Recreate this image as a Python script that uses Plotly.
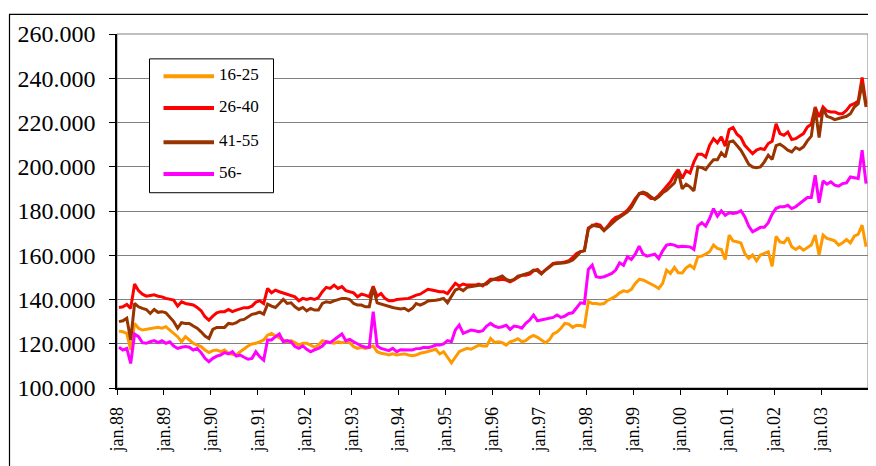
import numpy as np
import plotly.graph_objects as go

# ---- data (thousands), monthly jan.88 .. dec.03 ----
series_names = ["16-25", "26-40", "41-55", "56-"]
series_colors = ["#FF9900", "#FF0000", "#993300", "#FF00FF"]

age_16_25 = [
    125.7, 125.4, 124.7, 117.2, 129.2, 127.0, 126.2, 126.5, 127.0, 127.0, 127.4, 127.0,
    127.7, 126.2, 124.7, 123.2, 120.9, 123.2, 121.7, 120.2, 119.4, 118.7, 117.2, 116.0,
    116.9, 117.2, 116.4, 117.2, 115.7, 115.4, 114.9, 116.4, 117.9, 119.0, 119.9, 120.2,
    120.9, 121.7, 123.9, 124.7, 123.5, 122.4, 121.7, 120.9, 121.4, 120.5, 119.4, 120.2,
    120.2, 119.4, 118.4, 119.4, 121.4, 120.9, 120.5, 120.2, 120.9, 120.5, 120.9, 120.5,
    118.7, 117.9, 118.4, 117.9, 118.4, 119.0, 116.4, 115.7, 115.4, 114.9, 115.4, 114.9,
    115.2, 115.4, 114.9, 114.6, 114.9, 115.7, 116.0, 116.4, 116.9, 117.5, 115.4, 116.4,
    113.9, 111.4, 113.9, 116.4, 117.2, 117.9, 117.5, 118.4, 119.4, 119.0, 119.0, 122.4,
    120.6, 120.9, 120.5, 119.4, 120.9, 121.4, 122.3, 120.9, 121.4, 122.9, 123.8, 122.9,
    121.7, 120.5, 121.7, 124.4, 125.3, 127.0, 129.2, 128.9, 127.4, 128.4, 128.3, 127.7,
    139.0, 138.2, 138.2, 137.9, 138.2, 139.7, 140.5, 141.5, 143.0, 143.9, 143.5, 144.6,
    147.3, 149.1, 148.8, 148.0, 147.0, 146.1, 145.0, 147.3, 153.3, 151.8, 154.5, 152.1,
    152.0, 154.3, 155.5, 154.0, 159.3, 159.6, 160.5, 161.6, 164.6, 163.1, 162.6, 158.1,
    169.1, 166.5, 166.1, 165.6, 160.8, 158.6, 160.1, 157.5, 160.1, 160.8, 161.6, 155.0,
    168.5, 166.0, 165.6, 168.0, 163.8, 162.6, 163.8, 162.3, 163.5, 164.6, 169.1, 160.1,
    169.1, 167.6, 167.1, 166.5, 164.6, 165.6, 167.1, 165.6, 168.6, 169.5, 173.6, 163.8,
]

age_26_40 = [
    136.4, 136.7, 137.8, 136.0, 147.0, 144.0, 142.4, 141.5, 141.8, 142.1, 141.5, 141.2,
    140.5, 140.0, 139.7, 137.0, 139.0, 138.2, 137.9, 137.5, 136.4, 134.9, 132.2, 130.7,
    132.5, 134.0, 134.5, 134.5, 135.5, 134.5, 135.2, 135.8, 136.3, 136.3, 137.0, 138.8,
    139.4, 138.2, 145.0, 143.0, 144.2, 143.5, 143.0, 142.4, 142.0, 141.2, 139.4, 140.5,
    140.0, 140.5, 140.0, 140.9, 143.5, 145.5, 145.0, 146.5, 145.0, 145.8, 144.0, 143.5,
    143.0, 141.2, 142.4, 142.0, 141.2, 146.0, 141.5, 142.7, 140.5, 139.4, 139.4, 140.0,
    140.2, 140.5, 140.5, 141.2, 142.0, 142.4, 143.5, 144.6, 144.3, 143.8, 143.5, 143.5,
    142.7, 145.0, 147.3, 146.1, 147.0, 146.5, 146.5, 146.5, 147.0, 146.1, 147.6, 149.1,
    149.1, 148.8, 149.1, 148.8, 148.0, 148.8, 150.0, 151.0, 151.0, 151.5, 153.0, 153.6,
    151.8, 153.3, 154.8, 156.3, 156.6, 156.6, 157.0, 157.5, 159.0, 160.8, 161.6, 162.3,
    172.3, 173.2, 174.1, 173.6, 171.3, 173.2, 175.6, 177.1, 177.7, 178.9, 180.4, 182.6,
    185.6, 187.6, 188.2, 187.1, 185.6, 185.6, 187.1, 189.1, 191.2, 193.2, 196.2, 198.7,
    194.8, 198.2, 197.2, 202.2, 205.7, 205.7, 204.4, 209.7, 212.7, 210.8, 213.5, 209.3,
    216.8, 217.7, 214.7, 213.2, 209.7, 207.8, 205.9, 207.5, 208.2, 207.8, 210.5, 211.5,
    219.4, 215.0, 214.2, 215.7, 212.3, 212.7, 213.8, 215.0, 218.0, 219.2, 227.0, 222.5,
    227.0, 225.2, 224.8, 224.8, 224.0, 224.0, 225.5, 227.8, 228.5, 229.7, 240.3, 228.5,
]

age_41_55 = [
    130.0, 130.4, 131.5, 121.7, 138.2, 136.7, 136.0, 135.5, 133.7, 135.5, 134.2, 134.5,
    134.0, 132.2, 130.0, 127.0, 129.5, 129.2, 129.2, 128.0, 127.0, 125.4, 123.5, 122.4,
    126.5, 127.4, 127.4, 127.4, 129.2, 128.9, 129.5, 130.7, 131.0, 132.2, 133.3, 133.7,
    134.3, 133.4, 137.9, 137.0, 136.4, 138.2, 140.0, 138.2, 138.5, 136.7, 135.5, 136.4,
    134.9, 136.0, 135.2, 135.2, 138.2, 139.0, 138.7, 139.4, 140.0, 140.5, 140.5, 140.0,
    138.2, 137.5, 137.5, 136.7, 136.7, 145.5, 138.5, 137.9, 137.5, 136.7, 136.4, 136.0,
    135.7, 136.0, 134.9, 136.0, 138.2, 137.5, 138.2, 139.3, 139.4, 139.7, 140.0, 140.5,
    138.5, 141.2, 144.3, 145.0, 144.0, 145.5, 145.8, 145.8, 146.1, 146.5, 147.0, 148.5,
    149.1, 150.0, 150.6, 149.1, 148.5, 149.1, 150.6, 151.0, 151.5, 152.1, 153.3, 153.0,
    151.5, 153.3, 154.5, 156.0, 156.3, 156.3, 156.6, 157.0, 157.8, 159.6, 161.6, 162.0,
    171.8, 173.6, 173.2, 172.9, 171.1, 172.5, 174.3, 175.9, 177.1, 178.1, 179.6, 181.6,
    184.9, 187.9, 188.5, 187.9, 186.4, 185.2, 186.4, 188.2, 189.4, 190.9, 192.7, 197.7,
    190.0, 192.1, 190.9, 189.1, 199.9, 199.6, 198.7, 201.1, 203.2, 203.2, 206.3, 204.4,
    211.2, 211.7, 209.7, 207.5, 204.4, 201.1, 199.9, 199.6, 199.9, 202.2, 205.2, 203.3,
    209.5, 210.2, 209.0, 207.5, 206.7, 208.7, 207.8, 209.0, 211.7, 213.8, 226.3, 213.2,
    226.3, 222.8, 222.2, 221.3, 221.8, 222.2, 222.8, 224.0, 227.0, 228.5, 237.6, 227.0,
]

age_56 = [
    118.4, 117.2, 117.9, 111.1, 124.4, 123.2, 120.5, 120.2, 120.9, 121.4, 120.5, 121.4,
    120.2, 120.9, 119.0, 117.9, 118.4, 118.7, 118.4, 117.2, 117.9, 116.0, 113.4, 111.9,
    113.4, 114.4, 114.9, 116.0, 115.4, 116.4, 114.4, 114.9, 113.9, 113.0, 113.4, 116.4,
    114.1, 112.6, 121.7, 121.7, 123.2, 124.4, 120.9, 121.4, 120.9, 118.7, 117.9, 119.0,
    117.5, 116.4, 117.2, 117.9, 119.0, 120.9, 120.5, 121.7, 123.2, 124.4, 121.4, 122.0,
    120.9, 119.9, 119.0, 118.4, 118.4, 134.5, 119.0, 117.9, 117.5, 116.9, 117.9, 116.4,
    117.3, 117.2, 117.2, 117.2, 117.8, 117.9, 118.4, 118.2, 118.7, 119.4, 119.4, 119.9,
    121.4, 120.9, 126.2, 128.4, 124.7, 125.4, 126.2, 125.9, 125.4, 125.9, 128.0, 129.2,
    128.0, 127.4, 127.7, 128.4, 126.5, 128.0, 127.7, 127.0, 129.2, 130.7, 133.0, 130.4,
    130.7, 131.0, 131.3, 131.9, 133.0, 131.9, 132.5, 133.7, 134.0, 136.0, 138.5, 138.2,
    153.6, 155.5, 150.3, 150.0, 150.3, 151.0, 151.8, 153.3, 156.6, 155.5, 159.3, 158.1,
    160.5, 164.1, 160.5, 159.6, 159.9, 160.5, 158.5, 162.0, 164.6, 165.0, 164.6, 163.8,
    164.1, 164.1, 163.8, 162.6, 173.2, 174.7, 173.2, 176.6, 181.1, 177.7, 180.1, 178.1,
    179.2, 178.9, 179.2, 180.1, 177.4, 173.2, 170.6, 171.6, 172.6, 172.6, 174.7, 178.6,
    181.2, 181.9, 181.9, 182.6, 181.1, 181.9, 183.4, 184.6, 186.1, 186.1, 196.2, 183.7,
    193.6, 192.1, 193.2, 191.7, 191.2, 192.4, 192.7, 195.4, 195.1, 194.7, 207.5, 192.4,
]

year_labels = ["jan.88", "jan.89", "jan.90", "jan.91", "jan.92", "jan.93", "jan.94", "jan.95",
               "jan.96", "jan.97", "jan.98", "jan.99", "jan.00", "jan.01", "jan.02", "jan.03"]
y_ticks = [100000, 120000, 140000, 160000, 180000, 200000, 220000, 240000, 260000]

all_series = [age_16_25, age_26_40, age_41_55, age_56]

# ---- figure ----
# the page body has an 8px margin, so the figure is drawn 8px smaller and
# every screen position below is given in window pixels minus that offset
OFF = 8
W, H = 876 - OFF, 466 - OFF
PL, PR, PT, PB = 117, 868, 33.6, 388      # plot area in window pixels
ML, MR, MT, MB = PL - OFF, (876 - PR), PT - OFF, (466 - PB)
PW, PH = W - ML - MR, H - MT - MB

def px(x):
    return (x - OFF - ML) / PW

def py(y):
    return (H - MB - (y - OFF)) / PH

months = np.arange(len(age_16_25))
fig = go.Figure()
for name, col, vals in zip(series_names, series_colors, all_series):
    fig.add_trace(go.Scatter(x=months, y=np.array(vals) * 1000, mode="lines", name=name,
                             line=dict(color=col, width=3), showlegend=False))

tickvals = [-0.5 + 12 * i for i in range(len(year_labels))] + [len(months) - 0.5]
ticktext = year_labels + [""]

FONT = "Liberation Serif"
fig.update_layout(
    width=W, height=H,
    margin=dict(l=ML, r=MR, t=MT, b=MB, autoexpand=False),
    paper_bgcolor="white", plot_bgcolor="white",
    separators=",.",
    font=dict(family=FONT, color="black"),
    xaxis=dict(range=[-0.5, len(months) - 0.5], tickmode="array", tickvals=tickvals,
               ticktext=ticktext, tickangle=-90, tickfont=dict(family=FONT, size=18),
               showgrid=False, zeroline=False, showline=True, linecolor="black",
               linewidth=1.5, ticks="outside", ticklen=5, tickcolor="black", tickwidth=1,
               ticklabelstandoff=5),
    yaxis=dict(range=[100000, 260000], tickmode="array", tickvals=y_ticks,
               tickformat=",d", tickfont=dict(family=FONT, size=24),
               showgrid=True, gridcolor="#808080", gridwidth=1, zeroline=False,
               showline=True, linecolor="black", linewidth=1.5, ticks="outside",
               ticklen=6, tickcolor="black", tickwidth=1, ticklabelstandoff=9),
)

shapes = []
# plot-area border (gray)
shapes.append(dict(type="rect", xref="paper", yref="paper", x0=0, y0=0, x1=1, y1=1,
                   line=dict(color="#808080", width=1), layer="below"))
# outer chart border
shapes.append(dict(type="rect", xref="paper", yref="paper", x0=px(9.5), y0=py(480),
                   x1=px(875.5), y1=py(14), line=dict(color="black", width=1.2),
                   layer="above"))
# legend box
shapes.append(dict(type="rect", xref="paper", yref="paper", x0=px(149.5), y0=py(192.5),
                   x1=px(273.5), y1=py(58.5), line=dict(color="black", width=1),
                   fillcolor="white", layer="above"))
annotations = []
row_y = [76, 107.7, 142, 173.7]
for name, col, ry in zip(series_names, series_colors, row_y):
    shapes.append(dict(type="line", xref="paper", yref="paper", x0=px(163.5), x1=px(214),
                       y0=py(ry), y1=py(ry), line=dict(color=col, width=4), layer="above"))
    annotations.append(dict(xref="paper", yref="paper", x=px(217), y=py(ry - 1.5),
                            text=name, showarrow=False, xanchor="left", yanchor="middle",
                            font=dict(family=FONT, size=17, color="black")))
fig.update_layout(shapes=shapes, annotations=annotations)

fig.write_html("out.html")
